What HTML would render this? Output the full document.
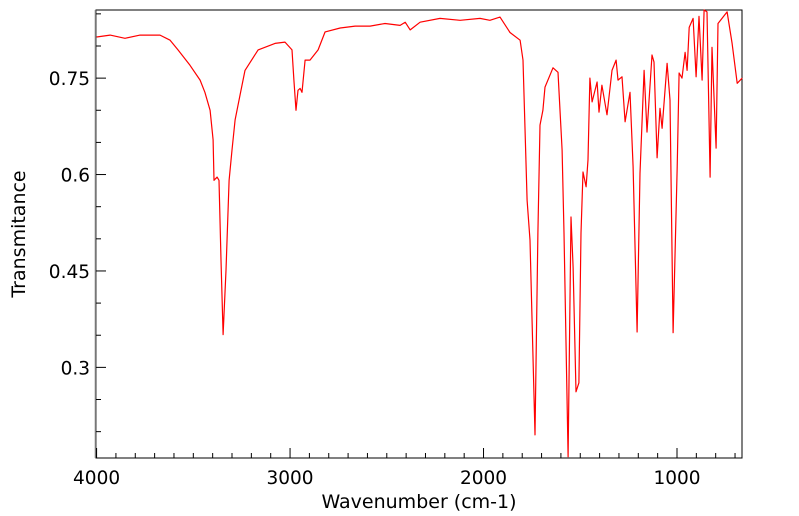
<!DOCTYPE html>
<html><head><meta charset="utf-8"><style>
body{margin:0;background:#fff;}
svg{display:block;font-family:"DejaVu Sans","Liberation Sans",sans-serif;}
</style></head><body>
<svg id="c" width="799" height="516"></svg>
<script>
const wavenumbers=[4000,3930,3853,3775,3672,3620,3579,3517,3465,3440,3413,3398,3393,3377,3367,3357,3346,3331,3315,3300,3284,3258,3233,3165,3078,3026,2990,2980,2969,2959,2948,2938,2922,2897,2855,2819,2741,2664,2586,2509,2431,2405,2379,2328,2225,2121,2018,1967,1915,1863,1811,1796,1775,1760,1734,1719,1708,1693,1682,1641,1615,1594,1584,1563,1548,1537,1522,1507,1496,1486,1470,1460,1450,1439,1413,1403,1388,1362,1336,1315,1305,1284,1268,1243,1227,1206,1191,1170,1155,1129,1119,1103,1088,1077,1051,1036,1020,999,989,974,958,948,937,917,901,886,870,860,845,829,819,798,788,741,715,689,663];
const transmittance=[0.814,0.817,0.812,0.817,0.817,0.809,0.794,0.770,0.747,0.728,0.700,0.654,0.591,0.596,0.591,0.467,0.351,0.451,0.591,0.638,0.685,0.724,0.762,0.794,0.804,0.806,0.794,0.747,0.700,0.731,0.734,0.728,0.778,0.778,0.794,0.822,0.828,0.831,0.831,0.835,0.832,0.837,0.825,0.837,0.843,0.840,0.843,0.840,0.845,0.821,0.809,0.778,0.560,0.498,0.195,0.509,0.677,0.700,0.736,0.766,0.759,0.638,0.509,0.161,0.534,0.456,0.262,0.276,0.509,0.604,0.581,0.623,0.750,0.713,0.744,0.697,0.739,0.693,0.762,0.778,0.747,0.752,0.682,0.728,0.612,0.355,0.602,0.762,0.666,0.786,0.775,0.626,0.703,0.672,0.773,0.716,0.354,0.612,0.758,0.750,0.790,0.762,0.829,0.843,0.752,0.846,0.747,0.856,0.853,0.596,0.798,0.641,0.835,0.853,0.804,0.742,0.750];
const xTicks=[4000,3000,2000,1000];
const yTicks=[0.3,0.45,0.6,0.75];
const yTickLabels=["0.3","0.45","0.6","0.75"];

const L=96,R=742,T=10,B=458;
const xMax=4003,xMin=664,yMin=0.159,yMax=0.856;
const sx=v=>L+(xMax-v)/(xMax-xMin)*(R-L);
const sy=v=>B-(v-yMin)/(yMax-yMin)*(B-T);
const svg=document.getElementById('c');
const NS='http://www.w3.org/2000/svg';
function mk(tag,attrs){const e=document.createElementNS(NS,tag);for(const k in attrs)e.setAttribute(k,attrs[k]);svg.appendChild(e);return e;}

let f=mk('rect',{x:L,y:T,width:R-L,height:B-T,fill:'none',stroke:'#000','stroke-width':1});


let le=mk('line',{x1:L-0.5,x2:L-0.5,y1:T,y2:B,stroke:'#777','stroke-width':1.5});



for(let v=4000;v>=700;v-=100){
  const major=v%1000===0;const x=sx(v);
  const t=mk('line',{x1:x,x2:x,y1:B,y2:B-(major?10:5),stroke:'#000','stroke-width':1});
  
  
}
xTicks.forEach(v=>{
  const t=mk('text',{x:sx(v),y:484,'text-anchor':'middle','font-size':18.5});
  t.textContent=String(v);
  
  
});
for(let i=4;i<=17;i++){
  const v=i*0.05;if(v<yMin||v>yMax)continue;
  const r=Math.round(v*100)%15;const major=r===0;const y=sy(v);
  const t=mk('line',{x1:L,x2:L+(major?10:5),y1:y,y2:y,stroke:'#000','stroke-width':1});
  
  
}
yTicks.forEach((v,i)=>{
  const t=mk('text',{x:L-6,y:sy(v)+7,'text-anchor':'end','font-size':18.5});
  t.textContent=yTickLabels[i];
  
  
});
let xt=mk('text',{x:419,y:508,'text-anchor':'middle','font-size':19});
xt.textContent='Wavenumber (cm-1)';


let yt=mk('text',{x:0,y:0,'text-anchor':'middle','font-size':19,transform:'translate(25,234) rotate(-90)'});
yt.textContent='Transmitance';



const pts=wavenumbers.map((w,i)=>sx(w).toFixed(1)+','+sy(transmittance[i]).toFixed(1)).join(' ');
let line=mk('polyline',{points:pts,fill:'none',stroke:'#ff0000','stroke-width':1.2,'stroke-linejoin':'round'});


</script>
</body></html>
